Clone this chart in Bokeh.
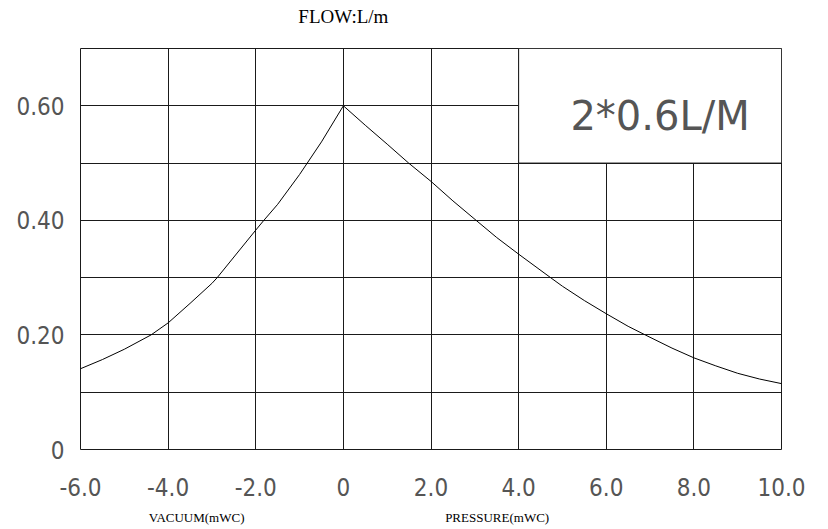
from bokeh.plotting import figure
from bokeh.models import Range1d, FixedTicker, Label, LinearAxis
from bokeh.embed import file_html
from bokeh.resources import INLINE

# ---- data ----
flow_x = [-6.0, -5.5, -5.0, -4.39, -4.0, -3.5, -3.0, -2.88, -2.0, -1.815, -1.5, -1.0, -0.5, 0.0,
          0.5, 1.0, 1.49, 2.0, 2.5, 3.03, 3.5, 4.0, 4.73, 5.0, 5.5, 6.0, 6.5, 6.89, 7.5, 8.0, 8.5, 9.0, 9.5, 10.0]
flow_y = [0.141, 0.157, 0.175, 0.200, 0.221, 0.255, 0.290, 0.300, 0.383, 0.400, 0.428, 0.480, 0.537, 0.600,
          0.566, 0.533, 0.500, 0.468, 0.434, 0.400, 0.370, 0.341, 0.300, 0.285, 0.260, 0.237, 0.215, 0.200, 0.177, 0.160, 0.146, 0.133, 0.123, 0.115]

x_ticks = [-6, -4, -2, 0, 2, 4, 6, 8, 10]
x_tick_labels = ["-6.0", "-4.0", "-2.0", "0", "2.0", "4.0", "6.0", "8.0", "10.0"]
y_ticks = [0, 0.2, 0.4, 0.6]
y_tick_labels = ["0", "0.20", "0.40", "0.60"]
y_grid = [0.1, 0.2, 0.3, 0.4, 0.5, 0.6]
x_grid = [-4, -2, 0, 2, 4, 6, 8]

box_x = [4, 10]
box_y = [0.5, 0.7]
box_text = "2*0.6L/M"
title_text = "FLOW:L/m"
title_pos = [0]
bottom_texts = ["VACUUM(mWC)", "PRESSURE(mWC)"]
bottom_pos = [-3.35, 3.51]

TICK_FONT = "'Liberation Sans Narrow', 'DejaVu Sans Condensed', 'Liberation Sans', sans-serif"
SERIF = "'Liberation Serif', serif"

p = figure(width=826, height=527, output_backend="svg", toolbar_location=None,
           x_range=Range1d(-6, 10), y_range=Range1d(0, 0.7),
           min_border_left=80, min_border_right=45, min_border_top=48, min_border_bottom=76)
p.background_fill_color = "white"
p.border_fill_color = "white"
p.outline_line_color = "#1a1a1a"
p.outline_line_width = 1

# grids
p.xgrid.ticker = FixedTicker(ticks=x_grid)
p.ygrid.ticker = FixedTicker(ticks=y_grid)
for g in (p.xgrid, p.ygrid):
    g.grid_line_color = "#1a1a1a"
    g.grid_line_width = 1
    g.grid_line_alpha = 1.0

# axes
p.xaxis.ticker = FixedTicker(ticks=x_ticks)
p.xaxis.major_label_overrides = {t: l for t, l in zip(x_ticks, x_tick_labels)}
p.yaxis.ticker = FixedTicker(ticks=y_ticks)
p.yaxis.major_label_overrides = {t: l for t, l in zip(y_ticks, y_tick_labels)}
for ax in (p.xaxis, p.yaxis):
    ax.axis_line_color = None
    ax.major_tick_line_color = None
    ax.minor_tick_line_color = None
    ax.major_label_text_font = TICK_FONT
    ax.major_label_text_font_size = "24px"
    ax.major_label_text_color = "#555555"
p.xaxis.major_label_standoff = 22
p.yaxis.major_label_standoff = 10

# extra axis below: VACUUM / PRESSURE captions
cap_axis = LinearAxis(ticker=FixedTicker(ticks=bottom_pos),
                      major_label_overrides={t: l for t, l in zip(bottom_pos, bottom_texts)})
# extra axis above: FLOW title
top_axis = LinearAxis(ticker=FixedTicker(ticks=title_pos),
                      major_label_overrides={title_pos[0]: title_text})
for ax, size, standoff in ((cap_axis, "13px", 5), (top_axis, "19px", 16)):
    ax.axis_line_color = None
    ax.major_tick_line_color = None
    ax.minor_tick_line_color = None
    ax.major_label_text_font = SERIF
    ax.major_label_text_font_size = size
    ax.major_label_text_color = "black"
    ax.major_label_standoff = standoff
p.add_layout(cap_axis, "below")
p.add_layout(top_axis, "above")

# box in top-right corner
p.quad(left=[box_x[0]], right=[box_x[1]], bottom=[box_y[0]], top=[box_y[1]],
       fill_color="white", line_color="#1a1a1a", line_width=1)

# curve
p.line(flow_x, flow_y, line_color="black", line_width=1)

p.add_layout(Label(x=(box_x[0] + box_x[1]) / 2, y=(box_y[0] + box_y[1]) / 2, text=box_text,
                   x_offset=10, y_offset=-10,
                   text_align="center", text_baseline="middle",
                   text_font="DejaVu Sans", text_font_size="40px", text_color="#555555"))

open("out.html", "w").write(file_html(p, INLINE))
